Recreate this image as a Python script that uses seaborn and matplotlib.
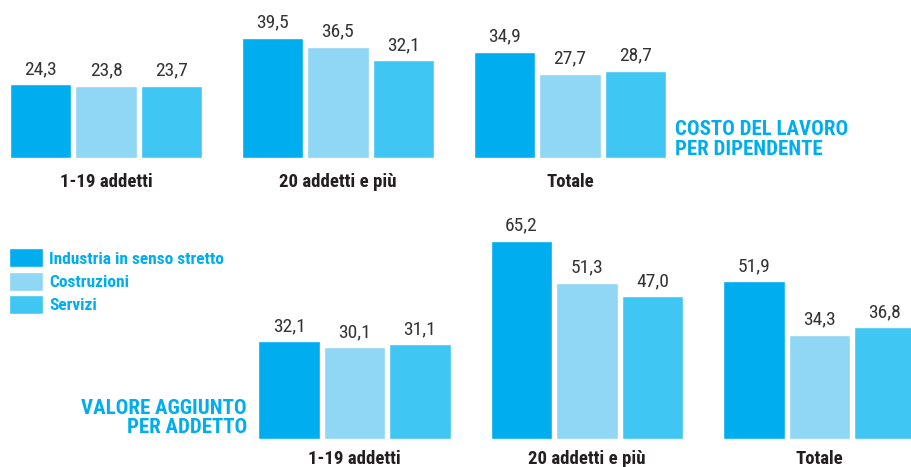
import matplotlib
matplotlib.use("Agg")
import matplotlib.pyplot as plt
import seaborn as sns
import pandas as pd
from matplotlib import font_manager

groups = ["1-19 addetti", "20 addetti e più", "Totale"]
series = ["Industria in senso stretto", "Costruzioni", "Servizi"]
costo_industria = [24.3, 39.5, 34.9]
costo_costruzioni = [23.8, 36.5, 27.7]
costo_servizi = [23.7, 32.1, 28.7]
valore_industria = [32.1, 65.2, 51.9]
valore_costruzioni = [30.1, 51.3, 34.3]
valore_servizi = [31.1, 47.0, 36.8]
colors = ["#00AEEF", "#8FD7F5", "#40C6F3"]
title_top = "COSTO DEL LAVORO\nPER DIPENDENTE"
title_bottom = "VALORE AGGIUNTO\nPER ADDETTO"

sns.set_theme(style="white")
names = {f.name for f in font_manager.fontManager.ttflist}
cond = [n for n in ["Liberation Sans Narrow", "Roboto Condensed", "Open Sans Condensed",
                    "DejaVu Sans Condensed"] if n in names]
plt.rcParams["font.family"] = cond + ["DejaVu Sans"]
plt.rcParams["font.stretch"] = "condensed"

W, H = 911, 467
fig = plt.figure(figsize=(W / 100, H / 100), dpi=100)
SCALE = 3.04  # px per unit


def make_df(a, b, c):
    rows = []
    for s, vals in zip(series, [a, b, c]):
        for g, v in zip(groups, vals):
            rows.append({"gruppo": g, "serie": s, "valore": v})
    return pd.DataFrame(rows)


def panel(df, top_px, base_px, center0_px, spacing_px, pad, legend=False):
    ax = fig.add_axes([0, (H - base_px) / H, 1, (base_px - top_px) / H])
    sns.barplot(data=df, x="gruppo", y="valore", hue="serie", order=groups,
                hue_order=series, palette=colors, width=0.845, gap=0.06,
                saturation=1, ax=ax, legend=legend)
    ax.set_xlim(-center0_px / spacing_px, (W - center0_px) / spacing_px)
    ax.set_ylim(0, (base_px - top_px) / SCALE)
    for cont in ax.containers:
        ax.bar_label(cont, labels=[f"{v:.1f}".replace(".", ",") for v in cont.datavalues],
                     padding=4.5, fontsize=14, color="#333333", fontstretch="condensed")
    for sp in ax.spines.values():
        sp.set_visible(False)
    ax.set_yticks([])
    ax.set_xlabel("")
    ax.set_ylabel("")
    ax.tick_params(axis="x", length=0, pad=pad, labelsize=13.5, labelcolor="#231F20")
    for t in ax.get_xticklabels():
        t.set_fontweight("bold")
        t.set_fontstretch("condensed")
    ax.patch.set_alpha(0)
    return ax


ax1 = panel(make_df(costo_industria, costo_costruzioni, costo_servizi), 0, 158, 106, 232, 11)
ax2 = panel(make_df(valore_industria, valore_costruzioni, valore_servizi), 200, 439, 354.5, 232.5, 8,
            legend=True)

leg = ax2.legend(loc="upper left", bbox_to_anchor=(-0.002, (H - 238) / H), bbox_transform=fig.transFigure,
                 frameon=False, handlelength=2.0, handleheight=1.3, handletextpad=0.35,
                 labelspacing=0.25, borderpad=0.3, borderaxespad=0.3,
                 prop={"size": 12.5, "weight": "bold", "stretch": "condensed"})
for t in leg.get_texts():
    t.set_color("#00AEEF")

fig.text(675 / W, 1 - 139.5 / H, title_top, ha="left", va="center", fontsize=15,
         fontweight="bold", color="#00AEEF", linespacing=1.05, fontstretch="condensed")
fig.text(247 / W, 1 - 418 / H, title_bottom, ha="right", va="center", fontsize=15,
         fontweight="bold", color="#00AEEF", linespacing=1.0, multialignment="right",
         fontstretch="condensed")

fig.savefig("out.png", dpi=100)
